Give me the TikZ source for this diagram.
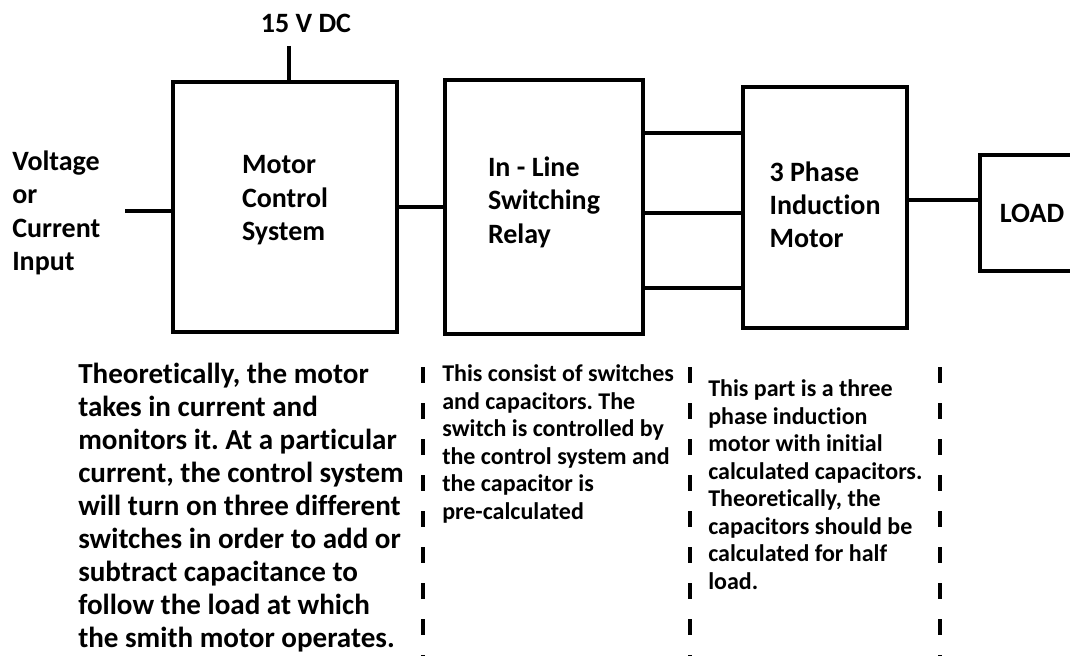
\documentclass[tikz,border=0pt]{standalone}
\usepackage{fontspec}
\setmainfont{Carlito}[Ligatures={NoCommon}]
\frenchspacing
\usetikzlibrary{arrows.meta}
\tikzset{
  blk/.style={draw, line width=2.4pt, inner sep=0pt},
  lbl/.style={align=left, inner sep=0pt, font=\bfseries\fontsize{21}{25}\selectfont},
  note/.style={align=left, inner sep=0pt, anchor=base west, font=\bfseries\fontsize{18}{20.6}\selectfont},
  wire/.style={line width=2.4pt},
  sep/.style={line width=2.4pt, dash pattern=on 12pt off 15pt},
}
\begin{document}
\begin{tikzpicture}[x=0.75pt,y=-0.75pt]
\clip (0,0) rectangle (1070,656);
\node[blk, minimum width=168pt, minimum height=187.5pt] (mcs) at (285,207) {};
\node[blk, minimum width=148.5pt, minimum height=190.5pt] (relay) at (544,207) {};
\node[blk, minimum width=123pt, minimum height=180.75pt] (motor) at (825,207.5) {};
\node[blk, minimum width=78pt, minimum height=87pt] (load) at (1032,213) {};
\node[lbl] (mcslbl) at ([yshift=5pt]mcs.center) {Motor\\Control\\System};
\node[lbl] (relaylbl) at ([yshift=3.5pt]relay.center) {In - Line\\Switching\\Relay};
\node[lbl] (motorlbl) at ([yshift=2pt]motor.center) {3 Phase\\Induction\\Motor};
\node[lbl] (loadlbl) at (load.center) {LOAD};
\node[lbl, anchor=west] (inlbl) at (12,213) {Voltage\\or\\Current\\Input};
\node[lbl] (dc) at (306,23) {15 V DC};
\coordinate (inp) at (125,211);
\coordinate (dctop) at (289,46);
\draw[wire] (inp) -- (inp -| mcs.west);
\draw[wire] (dctop) -- (dctop |- mcs.north);
\draw[wire] (mcs.east) -- (relay.west);
\foreach \y in {133,213,288}
  \draw[wire] (relay.east |- 0,\y) -- (motor.west |- 0,\y);
\draw[wire] (motor.east |- 0,200) -- (load.west |- 0,200);
% notes under the blocks
\node[note, font=\bfseries\fontsize{21.8}{24.7}\selectfont] (note1) at (78,647) {Theoretically, the motor\\takes in current and\\monitors it. At a particular\\current, the control system\\will turn on three different\\switches in order to add or\\subtract capacitance to\\follow the load at which\\the smith motor operates.};
\node[note] (note2) at (442,519) {This consist of switches\\and capacitors. The\\switch is controlled by\\the control system and\\the capacitor is\\pre-calculated};
\node[note] (note3) at (708,589) {This part is a three\\phase induction\\motor with initial\\calculated capacitors.\\Theoretically, the\\capacitors should be\\calculated for half\\load.};
\foreach \x in {423,690,940}
  \draw[sep] (\x,367) -- (\x,660);
\end{tikzpicture}
\end{document}
